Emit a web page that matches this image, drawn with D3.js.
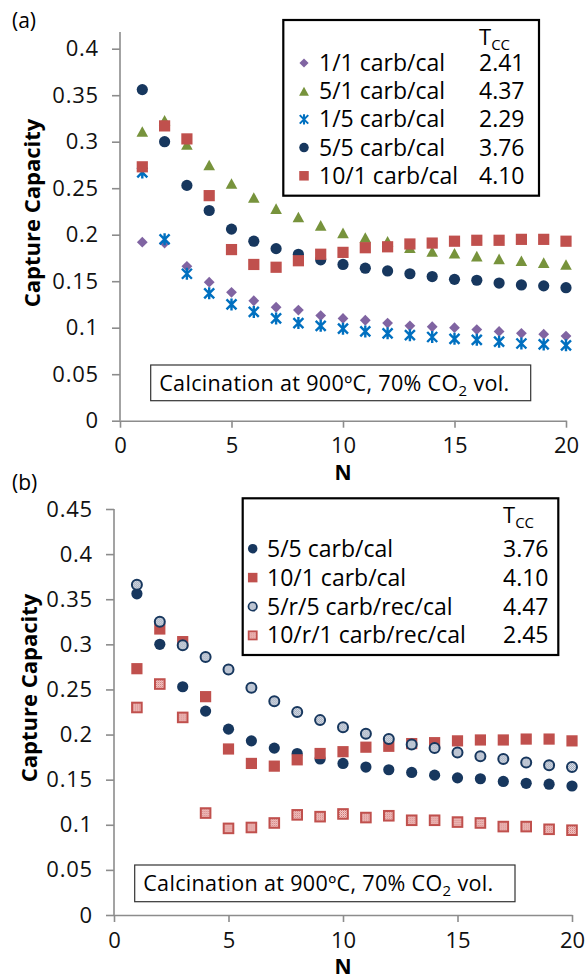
<!DOCTYPE html>
<html>
<head>
<meta charset="utf-8">
<script src="https://cdn.jsdelivr.net/npm/d3@7"></script>
<style>
  html, body { margin: 0; padding: 0; background: #fff; }
  svg { display: block; font-family: "Open Sans", sans-serif; }
</style>
</head>
<body>
<svg id="chart" width="585" height="980"></svg>
<script>
// Cycle number N
const cycles = d3.range(1, 21);

// Capture capacity per cycle for each carbonation/calcination schedule
const cc_1_1 = [0.192, 0.191, 0.166, 0.149, 0.138, 0.129, 0.122, 0.119, 0.113, 0.110,
                0.108, 0.105, 0.102, 0.101, 0.100, 0.098, 0.096, 0.094, 0.093, 0.091];
const cc_5_1 = [0.311, 0.323, 0.297, 0.275, 0.255, 0.240, 0.228, 0.219, 0.210, 0.202,
                0.197, 0.193, 0.186, 0.182, 0.180, 0.177, 0.174, 0.172, 0.170, 0.168];
const cc_1_5 = [0.267, 0.195, 0.158, 0.137, 0.125, 0.117, 0.110, 0.105, 0.102, 0.099,
                0.096, 0.094, 0.092, 0.090, 0.088, 0.087, 0.085, 0.083, 0.082, 0.081];
const cc_5_5 = [0.356, 0.300, 0.253, 0.226, 0.206, 0.193, 0.185, 0.179, 0.173, 0.168,
                0.164, 0.161, 0.158, 0.155, 0.152, 0.151, 0.148, 0.146, 0.145, 0.143];
const cc_10_1 = [0.273, 0.317, 0.303, 0.242, 0.184, 0.168, 0.165, 0.172, 0.179, 0.181,
                 0.186, 0.187, 0.190, 0.191, 0.193, 0.194, 0.194, 0.195, 0.195, 0.193];
const cc_5_r_5 = [0.366, 0.325, 0.299, 0.286, 0.272, 0.252, 0.237, 0.225, 0.216, 0.208,
                  0.201, 0.195, 0.189, 0.185, 0.180, 0.176, 0.173, 0.169, 0.166, 0.164];
const cc_10_r_1 = [0.230, 0.256, 0.219, 0.113, 0.096, 0.097, 0.102, 0.111, 0.109, 0.112,
                   0.108, 0.110, 0.105, 0.105, 0.103, 0.102, 0.098, 0.098, 0.095, 0.094];

// Legend entries: label and T_cc value
const labelsA = ["1/1 carb/cal", "5/1 carb/cal", "1/5 carb/cal", "5/5 carb/cal", "10/1 carb/cal"];
const tccA = ["2.41", "4.37", "2.29", "3.76", "4.10"];
const labelsB = ["5/5 carb/cal", "10/1 carb/cal", "5/r/5 carb/rec/cal", "10/r/1 carb/rec/cal"];
const tccB = ["3.76", "4.10", "4.47", "2.45"];

// Axis ticks
const xTicks = [0, 5, 10, 15, 20];
const yTicksA = [0, 0.05, 0.1, 0.15, 0.2, 0.25, 0.3, 0.35, 0.4];
const yTicksB = [0, 0.05, 0.1, 0.15, 0.2, 0.25, 0.3, 0.35, 0.4, 0.45];

const NAVY = "#17375E", RED = "#C0504D", PURPLE = "#8064A2", GREEN = "#77933C", BLUE = "#0070C0";
const AXIS = "#8c8c8c";

const svg = d3.select("#chart");
const defs = svg.append("defs");

// Dotted fills for the "rec" series
const pb = defs.append("pattern").attr("id", "dotsNavy")
  .attr("patternUnits", "userSpaceOnUse").attr("width", 2).attr("height", 2);
pb.append("rect").attr("width", 2).attr("height", 2).attr("fill", "#9eaabd");
pb.append("rect").attr("width", 1).attr("height", 1).attr("fill", "#e2e6ed");
pb.append("rect").attr("x", 1).attr("y", 1).attr("width", 1).attr("height", 1).attr("fill", "#d4d9e2");

const pr = defs.append("pattern").attr("id", "dotsRed")
  .attr("patternUnits", "userSpaceOnUse").attr("width", 2).attr("height", 2);
pr.append("rect").attr("width", 2).attr("height", 2).attr("fill", "#f3cfce");
pr.append("rect").attr("width", 1).attr("height", 1).attr("fill", "#cf6f6d");
pr.append("rect").attr("x", 1).attr("y", 1).attr("width", 1).attr("height", 1).attr("fill", "#e39c9a");

// Marker shapes, centred on (0,0)
function drawMarker(g, type, k) {
  k = k || 1;
  switch (type) {
    case "diamond": {
      const r = 5.4 * k;
      g.append("path").attr("d", `M0,${-r}L${r},0L0,${r}L${-r},0Z`).attr("fill", PURPLE);
      break;
    }
    case "triangle": {
      const w = 5.8 * k, h = 5.3 * k;
      g.append("path").attr("d", `M0,${-h}L${w},${h}L${-w},${h}Z`).attr("fill", GREEN);
      break;
    }
    case "star": {
      const r = 5 * k, v = 6 * k;
      g.append("path")
        .attr("d", `M${-r},${-r}L${r},${r}M${-r},${r}L${r},${-r}M0,${-v}L0,${v}`)
        .attr("stroke", BLUE).attr("stroke-width", 2.4 * k).attr("fill", "none");
      break;
    }
    case "circle":
      g.append("circle").attr("r", 5.6 * k).attr("fill", NAVY);
      break;
    case "square": {
      const s = 5.6 * k;
      g.append("rect").attr("x", -s).attr("y", -s).attr("width", 2 * s).attr("height", 2 * s).attr("fill", RED);
      break;
    }
    case "circleDots":
      g.append("circle").attr("r", 5 * k).attr("fill", "url(#dotsNavy)")
        .attr("stroke", NAVY).attr("stroke-width", 2 * k);
      break;
    case "squareDots": {
      const s = 4.8 * k;
      g.append("rect").attr("x", -s).attr("y", -s).attr("width", 2 * s).attr("height", 2 * s)
        .attr("fill", "url(#dotsRed)").attr("stroke", RED).attr("stroke-width", 2 * k);
      break;
    }
  }
}

function drawPanel(cfg) {
  const x = d3.scaleLinear().domain([0, 20]).range(cfg.xRange);
  const y = d3.scaleLinear().domain([0, cfg.yMax]).range(cfg.yRange);
  const root = svg.append("g");

  // Y axis
  const ya = root.append("g").attr("transform", `translate(${cfg.xRange[0]},0)`)
    .call(d3.axisLeft(y).tickValues(cfg.yTicks).tickSize(8).tickSizeOuter(0).tickPadding(13)
      .tickFormat(d => d3.format("")(+d.toFixed(2))));
  ya.select(".domain").remove();
  ya.append("line").attr("x1", 0).attr("x2", 0)
    .attr("y1", cfg.yRange[0]).attr("y2", cfg.axisTop)
    .attr("stroke", AXIS).attr("stroke-width", 1.6);
  ya.selectAll(".tick line").attr("stroke", AXIS).attr("stroke-width", 1.6);
  ya.selectAll(".tick text").attr("font-size", 22).attr("fill", "#111")
    .attr("letter-spacing", 0.8).attr("font-family", "Open Sans");

  // X axis
  const xa = root.append("g").attr("transform", `translate(0,${cfg.yRange[0]})`)
    .call(d3.axisBottom(x).tickValues(xTicks).tickSize(7).tickSizeOuter(0).tickPadding(10));
  xa.select(".domain").attr("stroke", AXIS).attr("stroke-width", 1.6);
  xa.selectAll(".tick line").attr("stroke", AXIS).attr("stroke-width", 1.6);
  xa.selectAll(".tick text").attr("font-size", 22).attr("fill", "#111")
    .attr("font-family", "Open Sans");

  // Axis titles
  root.append("text")
    .attr("transform", `translate(${cfg.yTitleX},${cfg.yTitleY}) rotate(-90)`)
    .attr("text-anchor", "middle").attr("font-size", 22).attr("font-weight", "bold")
    .text("Capture Capacity");
  root.append("text").attr("x", x(10)).attr("y", cfg.nY)
    .attr("text-anchor", "middle").attr("font-size", 21).attr("font-weight", "bold").text("N");

  // Panel tag
  root.append("text").attr("x", 12).attr("y", cfg.tagY).attr("font-size", 21).text(cfg.tag);

  // Condition note
  const nb = cfg.note;
  root.append("rect").attr("x", nb.x).attr("y", nb.y).attr("width", nb.w).attr("height", nb.h)
    .attr("fill", "#fff").attr("stroke", "#333").attr("stroke-width", 1.2);
  const nt = root.append("text").attr("x", nb.x + 8.5).attr("y", nb.base)
    .attr("font-size", 21.5).attr("letter-spacing", 0.35);
  nt.append("tspan").text("Calcination at 900ºC, 70% CO");
  nt.append("tspan").attr("font-size", 15).attr("dy", 5).text("2");
  nt.append("tspan").attr("dy", -5).text(" vol.");

  // Data points, one group per series in legend order
  cfg.series.forEach(s => {
    const gs = root.append("g");
    s.values.forEach((v, i) => {
      const g = gs.append("g").attr("transform", `translate(${x(cycles[i])},${y(v)})`);
      drawMarker(g, s.type);
    });
  });

  // Legend
  const lg = cfg.legend;
  root.append("rect").attr("x", lg.x).attr("y", lg.y).attr("width", lg.w).attr("height", lg.h)
    .attr("fill", "#fff").attr("stroke", "#000").attr("stroke-width", 2.2);
  const th = root.append("text").attr("x", lg.valX).attr("y", lg.tBase).attr("font-size", 22);
  th.append("tspan").text("T");
  th.append("tspan").attr("font-size", 15).attr("dy", 5).text("CC");
  cfg.series.forEach((s, i) => {
    const yy = lg.row0 + i * lg.step;
    const g = root.append("g").attr("transform", `translate(${lg.markX},${yy - 8})`);
    drawMarker(g, s.type, 0.85);
    root.append("text").attr("x", lg.textX).attr("y", yy).attr("font-size", 23).text(s.label);
    root.append("text").attr("x", lg.valX).attr("y", yy).attr("font-size", 23).text(s.tcc);
  });
}

drawPanel({
  tag: "(a)", tagY: 28,
  xRange: [120, 566], yRange: [420.7, 48.7], yMax: 0.4, axisTop: 32, yTicks: yTicksA,
  yTitleX: 40, yTitleY: 213, nY: 480,
  note: { x: 150.7, y: 365, w: 380, h: 35.7, base: 390.5 },
  legend: { x: 283.3, y: 20, w: 255.7, h: 175.7, markX: 304, textX: 319, valX: 479,
            tBase: 45, row0: 71, step: 28.2 },
  series: [
    { type: "diamond", values: cc_1_1, label: labelsA[0], tcc: tccA[0] },
    { type: "triangle", values: cc_5_1, label: labelsA[1], tcc: tccA[1] },
    { type: "star", values: cc_1_5, label: labelsA[2], tcc: tccA[2] },
    { type: "circle", values: cc_5_5, label: labelsA[3], tcc: tccA[3] },
    { type: "square", values: cc_10_1, label: labelsA[4], tcc: tccA[4] }
  ]
});

drawPanel({
  tag: "(b)", tagY: 490,
  xRange: [114, 572], yRange: [915, 509], yMax: 0.45, axisTop: 509, yTicks: yTicksB,
  yTitleX: 37, yTitleY: 688, nY: 974,
  note: { x: 134.7, y: 865, w: 380.3, h: 36.7, base: 890.7 },
  legend: { x: 242.7, y: 498.3, w: 315.6, h: 156.7, markX: 252.7, textX: 267, valX: 503,
            tBase: 523, row0: 556.7, step: 28.9 },
  series: [
    { type: "circle", values: cc_5_5, label: labelsB[0], tcc: tccB[0] },
    { type: "square", values: cc_10_1, label: labelsB[1], tcc: tccB[1] },
    { type: "circleDots", values: cc_5_r_5, label: labelsB[2], tcc: tccB[2] },
    { type: "squareDots", values: cc_10_r_1, label: labelsB[3], tcc: tccB[3] }
  ]
});
</script>
</body>
</html>
